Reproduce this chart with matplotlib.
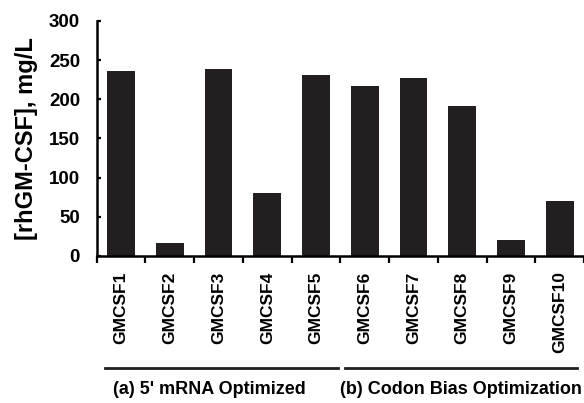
import numpy as np
import matplotlib.pyplot as plt
from matplotlib.lines import Line2D

plt.rcParams['font.family'] = ['Liberation Sans', 'DejaVu Sans']
plt.rcParams['font.weight'] = 'bold'

constructs = ['GMCSF1', 'GMCSF2', 'GMCSF3', 'GMCSF4', 'GMCSF5',
              'GMCSF6', 'GMCSF7', 'GMCSF8', 'GMCSF9', 'GMCSF10']
titer = [236, 16, 239, 80, 231, 217, 227, 192, 21, 70]  # mg/L

groups = ['(a) 5\' mRNA Optimized', '(b) Codon Bias Optimization']

fig = plt.figure(figsize=(5.84, 4.03), dpi=100)
ax = fig.add_axes([0.1656, 0.3648, 0.8344, 0.5831])

x = np.arange(len(constructs))
ax.bar(x, titer, width=0.57, color='#231f20', zorder=2)

ax.set_xlim(-0.5, 9.445)
ax.set_ylim(0, 300)
ax.set_yticks(np.arange(0, 301, 50))
ax.set_xticks(x)
ax.set_xticklabels(constructs, rotation=90, fontsize=12.5, fontweight='bold')
ax.set_xticks(np.arange(-0.5, 10, 1), minor=True)
ax.tick_params(axis='x', which='major', length=0, pad=11)
ax.tick_params(axis='x', which='minor', length=5, width=1.6, direction='out')
ax.tick_params(axis='y', length=3, width=1.6, direction='in', pad=12, labelsize=13.5)
for lab in ax.get_yticklabels():
    lab.set_fontweight('bold')

for side in ['top', 'right']:
    ax.spines[side].set_visible(False)
for side in ['left', 'bottom']:
    ax.spines[side].set_linewidth(1.8)

ax.set_ylabel('[rhGM-CSF], mg/L', fontsize=17, fontweight='bold', labelpad=8)

# group brackets under the tick labels
line_y = 1 - 368 / 403
text_y = 1 - 390 / 403
spans = [(-0.33, 4.46), (4.60, 9.36)]
to_fig = fig.transFigure.inverted()
for (x0, x1), name in zip(spans, groups):
    fig_x0 = to_fig.transform(ax.transData.transform((x0, 0)))[0]
    fig_x1 = to_fig.transform(ax.transData.transform((x1, 0)))[0]
    fig.add_artist(Line2D([fig_x0, fig_x1], [line_y, line_y], color='#231f20',
                          lw=2, transform=fig.transFigure))

fx_a = to_fig.transform(ax.transData.transform((1.81, 0)))[0]
fx_b = to_fig.transform(ax.transData.transform((4.50, 0)))[0]
fig.text(fx_a, text_y, groups[0], ha='center', va='center', fontsize=13, fontweight='bold')
fig.text(fx_b, text_y, groups[1], ha='left', va='center', fontsize=13, fontweight='bold')

fig.savefig('out.png', dpi=100)
